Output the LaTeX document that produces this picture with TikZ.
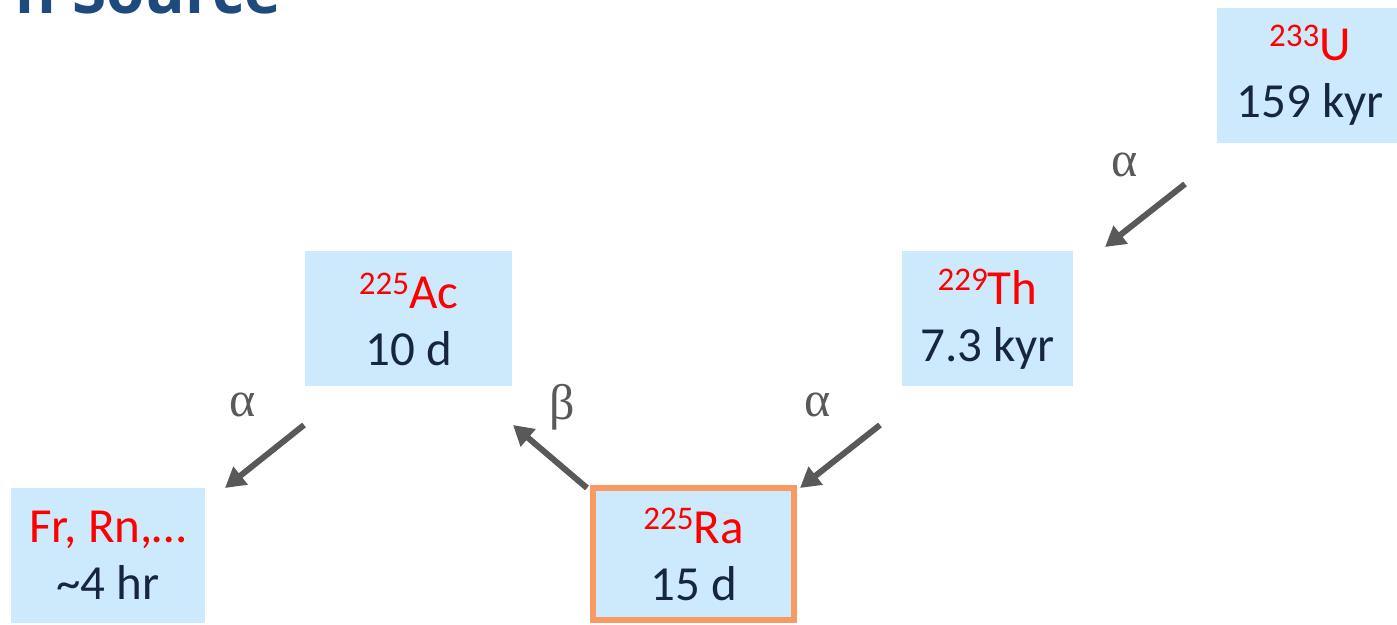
\documentclass[tikz,border=0pt]{standalone}
\usepackage{fontspec}
\setmainfont{Carlito}
\newfontfamily\greekfont{Liberation Serif}
\newfontfamily\titlefont{Open Sans}
\usetikzlibrary{arrows.meta}
\definecolor{boxblue}{HTML}{CCEAFB}
\definecolor{raorange}{HTML}{F89A62}
\definecolor{elred}{HTML}{FF0000}
\definecolor{timecol}{HTML}{172640}
\definecolor{arrowgray}{HTML}{595959}
\definecolor{titleblue}{HTML}{1F4A7E}
\newcommand{\iso}[2]{\textcolor{elred}{{\fontsize{16.5}{16.5}\selectfont\raisebox{7pt}{#1}}#2}}

\begin{document}
\begin{tikzpicture}[x=0.5pt,y=-0.5pt,
  nuc/.style={fill=boxblue,minimum height=67.5pt,inner sep=0pt,align=center,text=timecol,font=\fontsize{24.5}{28.5}\selectfont},
  decayarrow/.style={draw=arrowgray,line width=3pt,-{Triangle[length=10pt,width=11pt]}},
  mode/.style={text=arrowgray,inner sep=0pt,font=\greekfont\fontsize{25}{25}\selectfont}]
\path[use as bounding box,clip] (0,0) rectangle (1397,625);
\node[anchor=base west,inner sep=0pt,text=titleblue,font=\titlefont\bfseries\fontsize{31}{31}\selectfont] (title) at (15,14) {n Source};
\node[nuc,minimum width=93pt] (u) at (1310,75.5) {\iso{233}{U}\\159 kyr};
\node[nuc,minimum width=85.5pt] (th) at (987.5,319) {\iso{229}{Th}\\7.3 kyr};
\node[nuc,minimum width=103.5pt] (ac) at (408.5,319) {\iso{225}{Ac}\\10 d};
\node[nuc,minimum width=100.5pt,minimum height=66pt,draw=raorange,line width=3pt] (ra) at (693.5,554) {\iso{225}{Ra}\\15 d};
\node[nuc,minimum width=97pt] (fr) at (108,555.5) {\textcolor{elred}{Fr, Rn,…}\\\textasciitilde4 hr};
\coordinate (u-out) at (1185,184);
\coordinate (th-in) at (1105,247);
\coordinate (th-out) at (880,425);
\coordinate (ra-in) at (800,488);
\coordinate (ra-out) at (587,488);
\coordinate (ac-in) at (513,425);
\coordinate (ac-out) at (304,425);
\coordinate (fr-in) at (225,488);
\path
(u-out) edge[decayarrow] (th-in)
(th-out) edge[decayarrow] (ra-in)
(ra-out) edge[decayarrow] (ac-in)
(ac-out) edge[decayarrow] (fr-in)
;
\node[mode] (alpha-u) at (1125,165) {α};
\node[mode] (alpha-th) at (818,405) {α};
\node[mode] (beta-ra) at (562,407) {β};
\node[mode] (alpha-ac) at (243,405) {α};
\end{tikzpicture}
\end{document}
